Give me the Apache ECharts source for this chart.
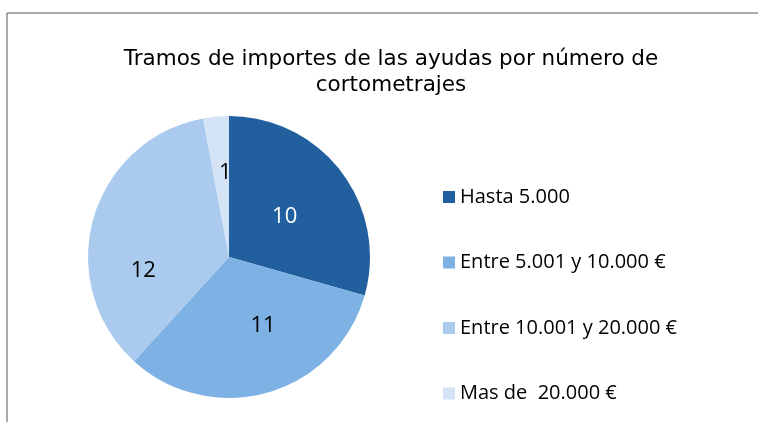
<!DOCTYPE html>
<html>
<head>
<meta charset="utf-8">
<script src="https://cdn.jsdelivr.net/npm/echarts@6/dist/echarts.min.js"></script>
<style>
    html, body { margin: 0; padding: 0; background: #fff; }
    #chart { width: 758px; height: 422px; }
</style>
</head>
<body>
<div id="chart"></div>
<script>
    // datos del gráfico
    const categories = ['Hasta 5.000', 'Entre 5.001 y 10.000 €', 'Entre 10.001 y 20.000 €', 'Mas de  20.000 €'];
    const values = [10, 11, 12, 1];
    const colors = ['#215f9f', '#7eb1e4', '#aacbee', '#d4e4f6'];
    const labelColors = ['#ffffff', '#000000', '#000000', '#000000'];
    // ajuste de etiquetas al estilo de Excel
    const labelOffsets = [[-3, 4], [14, -2], [-15, 34], [3, -11]];

    const chart = echarts.init(document.getElementById('chart'), null, { renderer: 'canvas' });

    chart.setOption({
        backgroundColor: '#fff',
        animation: false,
        title: {
            text: 'Tramos de importes de las ayudas por número de\ncortometrajes',
            left: 386,
            top: 41,
            textAlign: 'center',
            textStyle: {
                fontFamily: 'DejaVu Sans',
                fontWeight: 'normal',
                fontSize: 21.5,
                color: '#000',
                lineHeight: 26
            }
        },
        legend: {
            orient: 'vertical',
            left: 438,
            top: 182,
            itemWidth: 12,
            itemHeight: 12,
            itemGap: 45.5,
            icon: 'rect',
            textStyle: {
                fontFamily: 'Open Sans',
                fontSize: 20,
                color: '#000'
            },
            data: categories
        },
        graphic: [
            { type: 'line', shape: { x1: 7, y1: 13, x2: 758, y2: 13 }, style: { stroke: '#8c8c8c', lineWidth: 1.5 } },
            { type: 'line', shape: { x1: 7, y1: 13, x2: 7, y2: 422 }, style: { stroke: '#8c8c8c', lineWidth: 1.5 } }
        ],
        series: [{
            type: 'pie',
            center: [229, 257],
            radius: 141,
            startAngle: 90,
            clockwise: true,
            label: {
                show: true,
                position: 'inside',
                formatter: '{c}',
                fontFamily: 'Open Sans',
                fontSize: 22
            },
            labelLine: { show: false },
            itemStyle: { borderColor: '#fff', borderWidth: 0 },
            emphasis: { disabled: true },
            data: categories.map((name, i) => ({
                name: name,
                value: values[i],
                itemStyle: { color: colors[i] },
                label: { color: labelColors[i], offset: labelOffsets[i] }
            }))
        }]
    });
</script>
</body>
</html>
